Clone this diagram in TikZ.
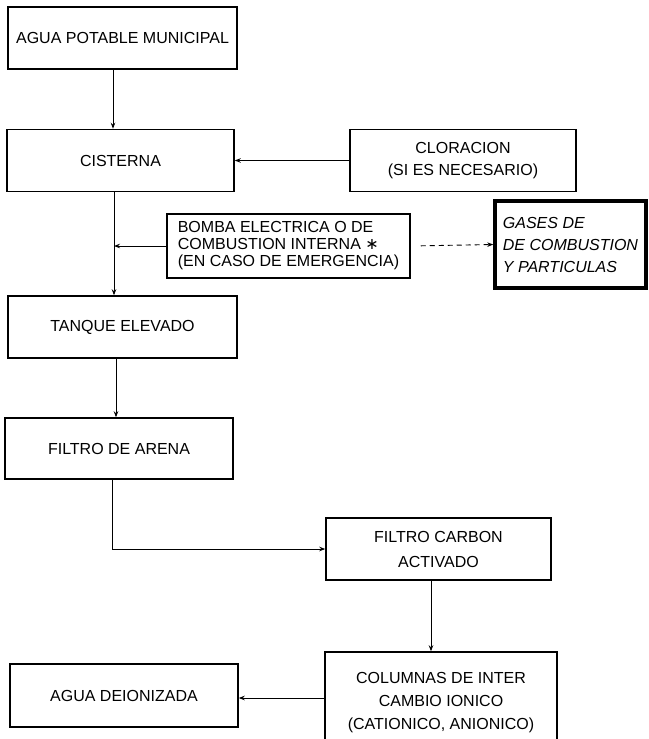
\documentclass[tikz,border=0pt]{standalone}
\usepackage{fontspec}
\setmainfont{Liberation Sans}
\newfontfamily\symfont{DejaVu Sans}
\usetikzlibrary{arrows.meta}
\begin{document}
\begin{tikzpicture}[x=1pt,y=-1pt,
  box/.style={draw, line width=1.5pt, rectangle, inner sep=0pt,
    font=\fontsize{16}{22}\selectfont, align=center},
  heavybox/.style={box, line width=3.5pt},
  label/.style={inner sep=0pt, font=\fontsize{16}{23}\selectfont, align=center},
  flow/.style={line width=0.9pt, -{Stealth[length=6pt,width=4.5pt]}},
  vent/.style={flow, dash pattern=on 5pt off 4pt, shorten <=10pt}]
\useasboundingbox (0,0) rectangle (648,739);
\clip (0,0) rectangle (648,739);

% main column of process boxes
\node[box, minimum width=229pt, minimum height=62pt] (agua) at (122.5,38) {AGUA POTABLE MUNICIPAL};
\node[box, minimum width=227pt, minimum height=62pt] (cist) at (120.5,160.5) {CISTERNA};
\node[box, minimum width=226pt, minimum height=62pt] (clor) at (463,160.5) {CLORACION\\(SI ES NECESARIO)};
\node[box, minimum width=243pt, minimum height=64pt, align=left,
  font=\fontsize{16}{17}\selectfont] (bomba) at (288.5,246)
  {BOMBA ELECTRICA O DE\\COMBUSTION INTERNA {\symfont ∗}\\(EN CASO DE EMERGENCIA)};
\node[heavybox, minimum width=151pt, minimum height=87pt, align=left,
  font=\fontsize{16}{22}\selectfont\itshape] (gases) at (570.5,244.5)
  {GASES DE\\DE COMBUSTION\\Y PARTICULAS};
\node[box, minimum width=229pt, minimum height=62pt] (tanque) at (122.5,327) {TANQUE ELEVADO};
\node[box, minimum width=228pt, minimum height=61pt] (arena) at (119,448.5) {FILTRO DE ARENA};
\node[box, minimum width=225pt, minimum height=62pt, font=\fontsize{16}{25}\selectfont] (carbon) at (438.5,549) {FILTRO CARBON\\ACTIVADO};
\node[box, minimum width=232pt, minimum height=118pt] (col) at (441,711) {};
\node[label] (colt) at (441,703) {COLUMNAS DE INTER\\CAMBIO IONICO\\(CATIONICO, ANIONICO)};
\node[box, minimum width=228pt, minimum height=63pt] (deion) at (124,695.5) {AGUA DEIONIZADA};

% x positions of the vertical runs
\coordinate (s1) at (113,0);
\coordinate (s2) at (114,0);
\coordinate (s3) at (116,0);
\coordinate (s4) at (112,0);
\coordinate (s5) at (431,0);
\coordinate (r6) at (0,698);

% connectors
\draw[flow] (agua.south -| s1) -- (cist.north -| s1);
\draw[flow] (clor.west) -- (cist.east);
\draw[flow] (cist.south -| s2) -- (tanque.north -| s2);
\draw[flow] (bomba.west) -- (bomba.west -| s2);
\draw[vent] (bomba.east) -- (gases.west);
\draw[flow] (tanque.south -| s3) -- (arena.north -| s3);
\draw[flow] (arena.south -| s4) |- (carbon.west);
\draw[flow] (carbon.south -| s5) -- (col.north -| s5);
\draw[flow] (col.west |- r6) -- (deion.east |- r6);
\end{tikzpicture}
\end{document}
